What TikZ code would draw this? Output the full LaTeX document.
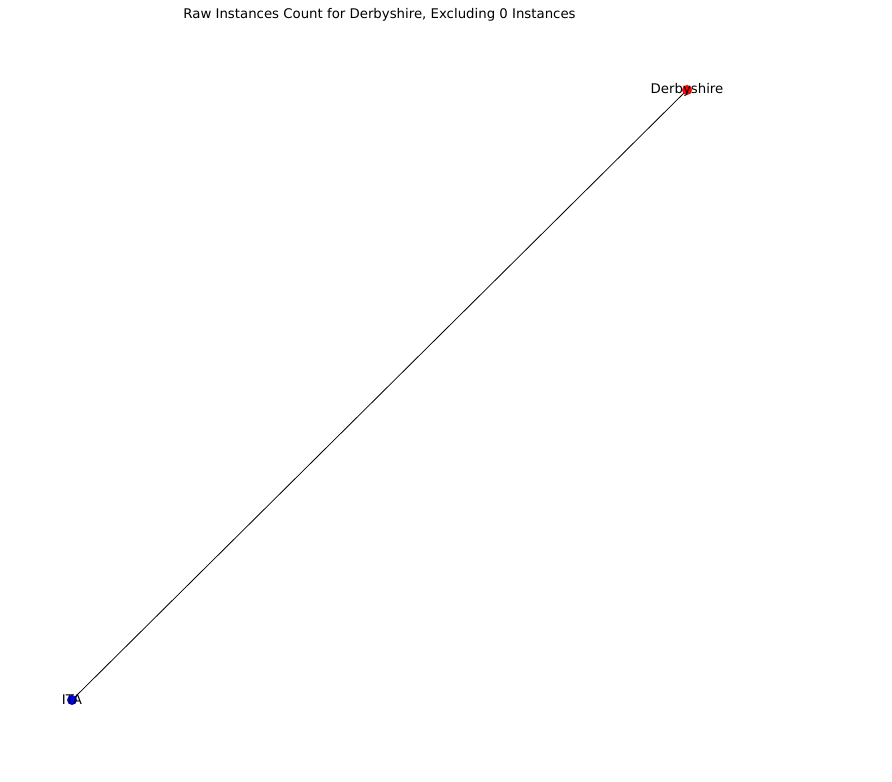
\documentclass[tikz,border=0pt]{standalone}
\usepackage{fontspec}
\setmainfont{DejaVu Sans}
\tikzset{
  vertex/.style={circle, inner sep=0pt, minimum size=10pt},
  lbl/.style={inner sep=0pt, font=\fontsize{13.3}{15}\selectfont, text=black},
  edge/.style={draw=black, line width=0.8pt}
}
\begin{document}
\begin{tikzpicture}[x=1pt,y=1pt]
\useasboundingbox[fill=white] (0,0) rectangle (892,782);
\coordinate (pderby) at (687,692);
\coordinate (pita) at (72,82);
\draw[edge] (pita) -- (pderby);
\node[vertex, fill=red] (derby) at (pderby) {};
\node[vertex, fill=blue] (ita) at (pita) {};
\node[lbl] (derbylbl) at (derby.center) {Derbyshire};
\node[lbl] (italbl) at (ita.center) {ITA};
\node[lbl] (title) at (379.5,767) {Raw Instances Count for Derbyshire, Excluding 0 Instances};
\end{tikzpicture}
\end{document}
